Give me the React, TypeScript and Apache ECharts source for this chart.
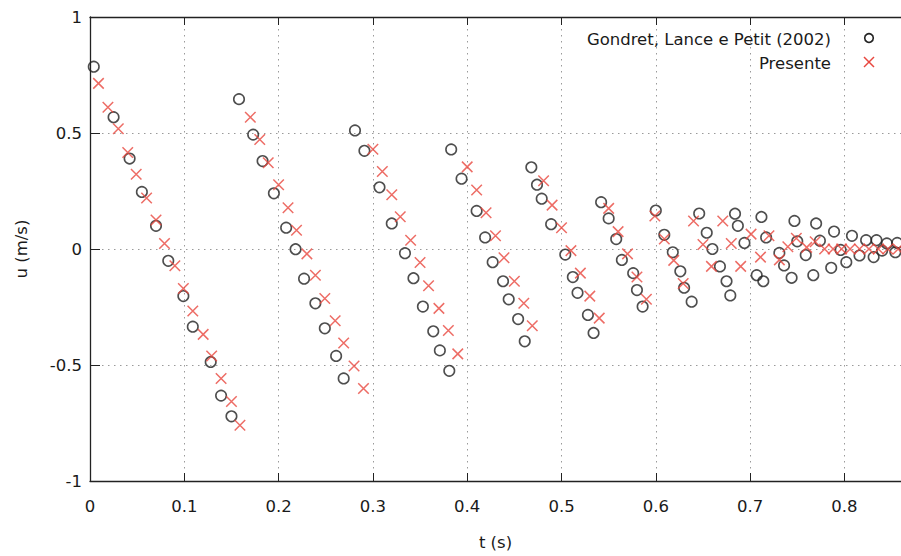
import React, { useEffect, useRef } from "react";
import * as echarts from "echarts";

const xTicks = [0, 0.1, 0.2, 0.3, 0.4, 0.5, 0.6, 0.7, 0.8];
const yTicks = [-1, -0.5, 0, 0.5, 1];
const seriesNames = ["Gondret, Lance e Petit (2002)", "Presente"];

// Gondret, Lance e Petit (2002) : [t (s), u (m/s)]
const gondret: [number, number][] = [
  [0.004, 0.786], [0.025, 0.568], [0.042, 0.39], [0.055, 0.246], [0.07, 0.1], [0.083, -0.051],
  [0.099, -0.203], [0.109, -0.335], [0.128, -0.487], [0.139, -0.632], [0.15, -0.721],
  [0.158, 0.646], [0.173, 0.493], [0.183, 0.379], [0.195, 0.24], [0.208, 0.092], [0.218, -0.001],
  [0.227, -0.128], [0.239, -0.234], [0.249, -0.342], [0.261, -0.461], [0.269, -0.558],
  [0.281, 0.511], [0.291, 0.423], [0.307, 0.266], [0.32, 0.11], [0.334, -0.018], [0.343, -0.126],
  [0.353, -0.248], [0.364, -0.355], [0.371, -0.437], [0.381, -0.525],
  [0.383, 0.429], [0.394, 0.303], [0.41, 0.164], [0.419, 0.05], [0.427, -0.057], [0.438, -0.139],
  [0.444, -0.217], [0.454, -0.302], [0.461, -0.398],
  [0.468, 0.352], [0.474, 0.277], [0.479, 0.217], [0.489, 0.107], [0.504, -0.024], [0.512, -0.121],
  [0.517, -0.189], [0.528, -0.284], [0.534, -0.362],
  [0.542, 0.202], [0.55, 0.132], [0.558, 0.043], [0.564, -0.047], [0.576, -0.104], [0.58, -0.177],
  [0.586, -0.248],
  [0.6, 0.166], [0.609, 0.061], [0.618, -0.014], [0.626, -0.096], [0.63, -0.167], [0.638, -0.227],
  [0.646, 0.153], [0.654, 0.07], [0.66, 0.0], [0.668, -0.075], [0.675, -0.139], [0.679, -0.2],
  [0.684, 0.152], [0.687, 0.1], [0.694, 0.026], [0.707, -0.113], [0.714, -0.139],
  [0.712, 0.138], [0.717, 0.05], [0.731, -0.017], [0.736, -0.071], [0.744, -0.124],
  [0.747, 0.121], [0.75, 0.033], [0.759, -0.026], [0.767, -0.113],
  [0.77, 0.11], [0.774, 0.036], [0.786, -0.081], [0.789, 0.075], [0.796, -0.004], [0.802, -0.057],
  [0.808, 0.057], [0.816, -0.028], [0.823, 0.038], [0.831, -0.035], [0.834, 0.038], [0.84, -0.007],
  [0.845, 0.024], [0.854, -0.014], [0.856, 0.026],
];

// Presente : [t (s), u (m/s)]
const presente: [number, number][] = [
  [0.009, 0.714], [0.019, 0.611], [0.03, 0.518], [0.04, 0.416], [0.049, 0.322], [0.06, 0.22],
  [0.07, 0.125], [0.079, 0.024], [0.09, -0.072], [0.099, -0.17], [0.109, -0.267], [0.12, -0.368],
  [0.129, -0.461], [0.139, -0.558], [0.15, -0.657], [0.159, -0.76],
  [0.17, 0.568], [0.18, 0.472], [0.189, 0.372], [0.2, 0.277], [0.21, 0.178], [0.219, 0.081],
  [0.23, -0.021], [0.239, -0.113], [0.249, -0.213], [0.26, -0.309], [0.269, -0.405], [0.28, -0.504],
  [0.29, -0.601],
  [0.3, 0.43], [0.31, 0.334], [0.32, 0.234], [0.329, 0.139], [0.34, 0.038], [0.35, -0.058],
  [0.359, -0.158], [0.37, -0.256], [0.38, -0.351], [0.39, -0.452],
  [0.4, 0.354], [0.41, 0.254], [0.42, 0.156], [0.43, 0.057], [0.439, -0.038], [0.45, -0.139],
  [0.46, -0.234], [0.469, -0.331],
  [0.481, 0.294], [0.49, 0.189], [0.5, 0.092], [0.51, -0.007], [0.52, -0.104], [0.53, -0.203],
  [0.54, -0.298],
  [0.55, 0.175], [0.56, 0.075], [0.57, -0.021], [0.58, -0.121], [0.59, -0.217],
  [0.599, 0.142], [0.609, 0.043], [0.619, -0.049], [0.629, -0.149],
  [0.64, 0.121], [0.65, 0.019], [0.659, -0.075], [0.671, 0.121], [0.68, 0.024], [0.69, -0.075],
  [0.701, 0.064], [0.711, -0.035], [0.72, 0.057], [0.731, -0.047], [0.74, 0.01], [0.749, 0.046],
  [0.76, 0.007], [0.769, 0.031], [0.779, 0.0], [0.788, 0.0], [0.797, 0.0], [0.806, 0.0],
  [0.816, 0.0], [0.826, 0.0], [0.836, 0.0], [0.846, 0.0], [0.857, 0.0],
];

const FONT = "DejaVu Sans";
const FS = 16.5;
const TEXT = "#1a1a1a";
const AXIS = "#222";
const RED = "#e8473f";
const CROSS = "path://M0,0L10,10M0,10L10,0";

export default function App() {
  const ref = useRef<HTMLDivElement>(null);
  useEffect(() => {
    if (!ref.current) return;
    const chart = echarts.init(ref.current, undefined, { renderer: "svg" });
    const xMin = xTicks[0];
    const xStep = xTicks[1] - xTicks[0];
    const yMin = yTicks[0];
    const yMax = yTicks[yTicks.length - 1];
    const yStep = yTicks[1] - yTicks[0];
    const lx = 831;
    const ix = 869;
    chart.setOption({
      animation: false,
      backgroundColor: "#fff",
      grid: { left: 90, right: 0, top: 17, bottom: 70, containLabel: false },
      xAxis: [
        {
          type: "value",
          min: xMin,
          max: 0.86,
          interval: xStep,
          name: "t (s)",
          nameLocation: "middle",
          nameGap: 53,
          nameTextStyle: { fontFamily: FONT, fontSize: FS, color: TEXT },
          axisLine: { show: true, onZero: false, lineStyle: { color: AXIS, width: 1.3 } },
          axisTick: { show: true, inside: true, length: 8, lineStyle: { color: AXIS, width: 1 } },
          axisLabel: { show: true, margin: 17, fontFamily: FONT, fontSize: FS, color: TEXT, showMaxLabel: false },
          splitLine: { show: true, lineStyle: { color: "#9a9a9a", width: 1, type: [1.5, 4.5] } },
        },
        {
          type: "value",
          position: "top",
          min: xMin,
          max: 0.86,
          interval: xStep,
          axisLine: { show: true, onZero: false, lineStyle: { color: AXIS, width: 1.3 } },
          axisTick: { show: true, inside: true, length: 8, lineStyle: { color: AXIS, width: 1 } },
          axisLabel: { show: false },
          splitLine: { show: false },
        },
      ],
      yAxis: {
        type: "value",
        min: yMin,
        max: yMax,
        interval: yStep,
        name: "u (m/s)",
        nameLocation: "middle",
        nameGap: 60,
        nameTextStyle: { fontFamily: FONT, fontSize: FS, color: TEXT },
        axisLine: { show: true, onZero: false, lineStyle: { color: AXIS, width: 1.3 } },
        axisTick: { show: true, inside: true, length: 10, lineStyle: { color: AXIS, width: 1 } },
        axisLabel: { margin: 8, fontFamily: FONT, fontSize: FS, color: TEXT },
        splitLine: { show: true, lineStyle: { color: "#9a9a9a", width: 1, type: [1.5, 4.5] } },
      },
      series: [
        {
          name: seriesNames[0],
          type: "scatter",
          xAxisIndex: 0,
          data: gondret,
          symbol: "circle",
          symbolSize: 10.5,
          itemStyle: { color: "rgba(0,0,0,0)", borderColor: "#222", borderWidth: 1.6 },
          emphasis: { disabled: true },
        },
        {
          name: seriesNames[1],
          type: "scatter",
          xAxisIndex: 0,
          data: presente,
          symbol: CROSS,
          symbolSize: 10.5,
          itemStyle: { color: "rgba(0,0,0,0)", borderColor: RED, borderWidth: 1.5 },
          emphasis: { disabled: true },
        },
      ],
      graphic: [
        {
          type: "text",
          x: lx,
          y: 39,
          style: { text: seriesNames[0], fontFamily: FONT, fontSize: FS, fill: TEXT, textAlign: "right", textVerticalAlign: "middle" },
        },
        {
          type: "circle",
          shape: { cx: ix, cy: 38, r: 4.3 },
          style: { fill: "none", stroke: "#222", lineWidth: 1.6 },
        },
        {
          type: "text",
          x: lx,
          y: 63,
          style: { text: seriesNames[1], fontFamily: FONT, fontSize: FS, fill: TEXT, textAlign: "right", textVerticalAlign: "middle" },
        },
        {
          type: "line",
          shape: { x1: ix - 5, y1: 57, x2: ix + 5, y2: 67 },
          style: { stroke: RED, lineWidth: 1.5 },
        },
        {
          type: "line",
          shape: { x1: ix - 5, y1: 67, x2: ix + 5, y2: 57 },
          style: { stroke: RED, lineWidth: 1.5 },
        },
      ],
    });
    return () => chart.dispose();
  }, []);
  return <div ref={ref} style={{ width: 901, height: 556, position: "absolute", left: 0, top: 0 }} />;
}
